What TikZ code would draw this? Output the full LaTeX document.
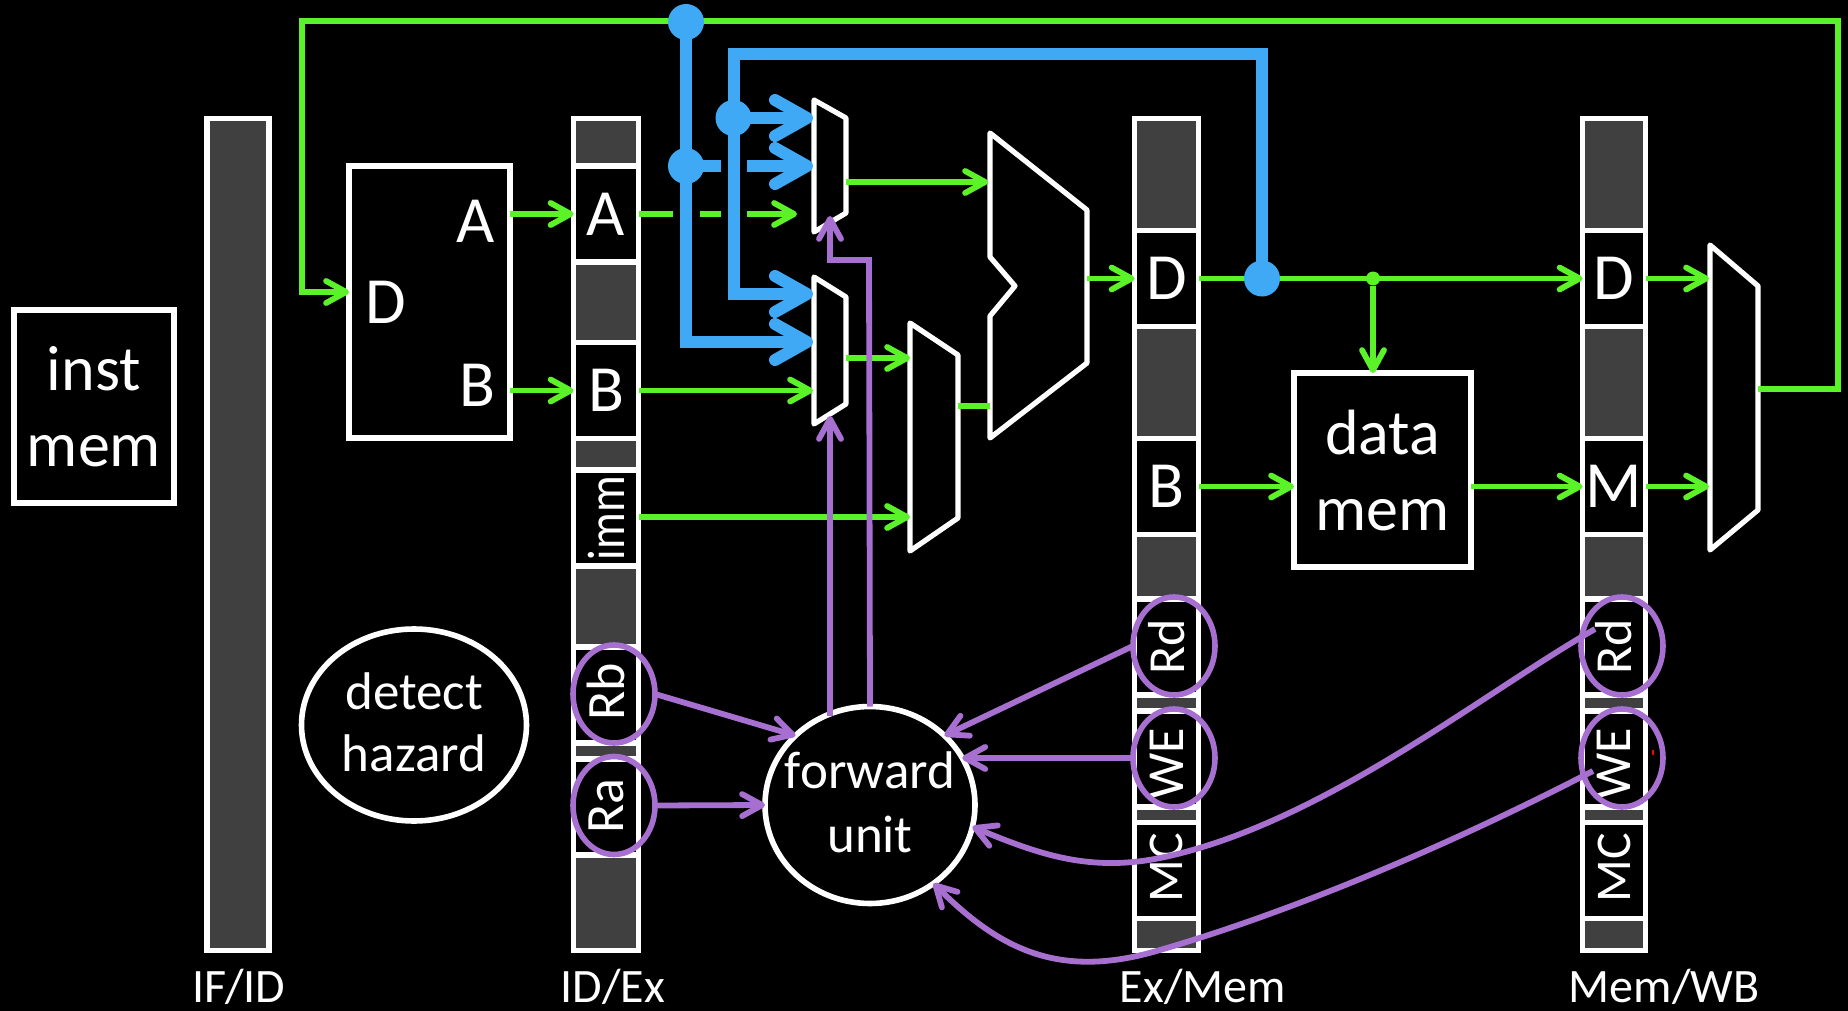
\documentclass[tikz,border=0pt]{standalone}
\usepackage{fontspec}
\usepackage{graphicx}
\setmainfont{Carlito}
\usetikzlibrary{arrows.meta,shapes.geometric}
\definecolor{wgreen}{HTML}{5CF22A}
\definecolor{wblue}{HTML}{3FA9F5}
\definecolor{wpurple}{HTML}{A66FD0}
\definecolor{bargrey}{HTML}{404040}
\newsavebox{\rotholder}
\newcommand{\rottext}[3]{\sbox{\rotholder}{\rotatebox{90}{\fontsize{#1}{#1}\selectfont #2}}\raisebox{\dimexpr-0.5\ht\rotholder+0.5\dp\rotholder+#3\relax}[0pt][0pt]{\usebox{\rotholder}}}
\tikzset{
  regbar/.style={draw=white,fill=bargrey,line width=2.6pt,inner sep=0pt,outer sep=0pt},
  cellbox/.style={draw=white,fill=black,line width=2.6pt,inner sep=0pt,outer sep=0pt,text=white,minimum height=48pt,minimum width=#1,font=\fontsize{33}{36}\selectfont},
  cellbox/.default=32pt,
  blockbox/.style={draw=white,fill=black,line width=2.6pt,inner sep=0pt,outer sep=0pt,text=white,align=center,font=\fontsize{32}{38}\selectfont},
  shapeline/.style={draw=white,line width=2.6pt,line join=round,fill=black},
  bigoval/.style={ellipse,draw=white,fill=black,line width=2.8pt,inner sep=0pt,outer sep=0pt},
  ovaltext/.style={text=white,align=center,inner sep=0pt,font=\fontsize{26.5}{#1}\selectfont},
  selring/.style={ellipse,draw=wpurple,line width=2.8pt,inner sep=0pt,outer sep=0pt,minimum width=41pt,minimum height=49pt},
  gwire/.style={draw=wgreen,line width=2.9pt},
  garrow/.style={gwire,-{Straight Barb[round,length=10pt,width=11pt]}},
  bwire/.style={draw=wblue,line width=6pt},
  barrow/.style={bwire,-{Straight Barb[round,length=16pt,width=18pt]}},
  parrow/.style={draw=wpurple,line width=2.9pt,-{Straight Barb[round,length=10pt,width=11pt]}},
  bdot/.style={circle,fill=wblue,inner sep=0pt,outer sep=0pt,minimum size=#1},
  busline/.style={text=white,inner sep=0pt,anchor=base,font=\fontsize{24}{24}\selectfont},
}
\begin{document}
\begin{tikzpicture}[x=0.5pt,y=-0.5pt]
\useasboundingbox (0,0) rectangle (1848,1011);
\fill[black] (0,0) rectangle (1848,1011);

% pipeline registers
\node[regbar,minimum width=31pt,minimum height=416pt] (ifid) at (238,534.5) {};
\node[regbar,minimum width=32.5pt,minimum height=416pt] (idex) at (606,534.5) {};
\node[regbar,minimum width=32pt,minimum height=416pt] (exmem) at (1166.5,534.5) {};
\node[regbar,minimum width=31.5pt,minimum height=416pt] (memwb) at (1614,534.5) {};

% ID/Ex cells
\node[cellbox=32.5pt] (idA) at (606,214) {A};
\node[cellbox=32.5pt] (idB) at (606,390.5) {B};
\node[cellbox=32.5pt] (idImm) at (606,518) {\rotatebox{90}{\scalebox{1}[1.15]{\fontsize{23}{23}\selectfont imm}}};
\node[cellbox=32.5pt] (idRb) at (606,695) {\rottext{27}{Rb}{1.5pt}};
\node[cellbox=32.5pt] (idRa) at (606,807) {\rottext{27}{Ra}{0.5pt}};

% Ex/Mem cells
\node[cellbox=32pt] (exD) at (1166.5,278.5) {D};
\node[cellbox=32pt] (exB) at (1166.5,486.5) {B};
\node[cellbox=32pt] (exRd) at (1166.5,647) {\rottext{26}{Rd}{0pt}};
\node[cellbox=32pt] (exWE) at (1166.5,759) {\rottext{26}{WE}{-2.4pt}};
\node[cellbox=32pt] (exMC) at (1166.5,870.5) {\rottext{25}{MC}{1.5pt}};

% Mem/WB cells
\node[cellbox=31.5pt] (memD) at (1614,278.5) {D};
\node[cellbox=31.5pt] (memM) at (1614,486.5) {M};
\node[cellbox=31.5pt] (memRd) at (1614,647) {\rottext{26}{Rd}{0pt}};
\node[cellbox=31.5pt] (memWE) at (1614,759) {\rottext{26}{WE}{-2.4pt}};
\node[cellbox=31.5pt] (memMC) at (1614,870.5) {\rottext{25}{MC}{1.5pt}};

% blocks
\node[blockbox,minimum width=80pt,minimum height=96.5pt] (imem) at (94,406.5) {inst\\mem};
\node[blockbox,minimum width=80.5pt,minimum height=136pt] (regs) at (429.5,302) {};
\node[text=white,font=\fontsize{33}{36}\selectfont] (regA) at (476,221) {A};
\node[text=white,font=\fontsize{33}{36}\selectfont] (regB) at (477,385) {B};
\node[text=white,font=\fontsize{33}{36}\selectfont] (regD) at (386,302) {D};
\node[blockbox,minimum width=88.5pt,minimum height=97pt] (dmem) at (1382.5,470) {data\\mem};
\node[bigoval,minimum width=112.5pt,minimum height=96pt] (hazard) at (414,725) {};
\node[ovaltext=31pt] (hazardText) at (414,722) {detect\\hazard};
\node[bigoval,minimum width=105pt,minimum height=98.5pt] (fwd) at (870,805) {};
\node[ovaltext=32pt] (fwdText) at (870,802) {forward\\unit};

% muxes and ALU
\draw[shapeline] (814,100) -- (846,118) -- (846,213) -- (814,232) -- cycle;
\draw[shapeline] (814,277) -- (846,297) -- (846,404) -- (814,424) -- cycle;
\draw[shapeline] (910,323) -- (958,355) -- (958,518) -- (910,551) -- cycle;
\draw[shapeline] (990,133) -- (1087,210) -- (1087,363) -- (990,438) -- (990,316) -- (1015,286) -- (990,257) -- cycle;
\draw[shapeline] (1710,245) -- (1758,286) -- (1758,510) -- (1710,550) -- cycle;

\coordinate (m1A) at (813,118);
\coordinate (m1B) at (813,166);
\coordinate (m1C) at (797,214);
\coordinate (m1Out) at (846,182);
\coordinate (m1Ctl) at (830,216);
\coordinate (m2A) at (813,294);
\coordinate (m2B) at (813,342);
\coordinate (m2C) at (813,390.5);
\coordinate (m2Out) at (846,358);
\coordinate (m2Ctl) at (830,416);
\coordinate (m3A) at (910,358);
\coordinate (m3B) at (910,517);
\coordinate (m3Out) at (958,406);
\coordinate (aluA) at (988,182);
\coordinate (aluB) at (990,406);
\coordinate (aluOut) at (1087,278.5);
\coordinate (m4A) at (1709,278.5);
\coordinate (m4B) at (1709,486.5);
\coordinate (m4Out) at (1758,389);
\coordinate (ctlTurnR) at (869,260);
\coordinate (ctlTurnL) at (830,260);
\coordinate (topL) at (302,21);
\coordinate (topR) at (1838,21);
\coordinate (sideR) at (1838,389);
\coordinate (topLowL) at (302,292);
\coordinate (regIn) at (349,292);

% green wires
\draw[garrow,line join=miter] (m4Out) -- (sideR) -- (topR) -- (topL) -- (topLowL) -- (regIn);
\draw[garrow] (regs.east |- idA) -- (idA.west);
\draw[garrow] (regs.east |- idB) -- (idB.west);
\coordinate (dashA) at (673,214);
\coordinate (dashB) at (700,214);
\coordinate (dashC) at (721,214);
\coordinate (dashD) at (747,214);
\draw[gwire] (idA.east) -- (dashA);
\draw[gwire] (dashB) -- (dashC);
\draw[garrow] (dashD) -- (m1C);
\draw[garrow] (idB.east) -- (m2C);
\draw[garrow] (idImm.east |- m3B) -- (m3B);
\draw[garrow] (m1Out) -- (aluA);
\draw[garrow] (m2Out) -- (m3A);
\draw[gwire] (m3Out) -- (aluB);
\draw[garrow] (aluOut) -- (exD.west);
\draw[garrow] (exD.east) -- (memD.west);
\node[bdot=7pt,fill=wgreen] (junc) at (1373,278.5) {};
\draw[garrow] (junc) -- (junc |- dmem.north);
\draw[garrow] (exB.east) -- (dmem.west |- exB);
\draw[garrow] (dmem.east |- memM) -- (memM.west);
\draw[garrow] (memD.east) -- (m4A);
\draw[garrow] (memM.east) -- (m4B);

% blue bypass wires
\node[bdot=18pt] (dotTop) at (686,22) {};
\node[bdot=18pt] (dotMid) at (686,166) {};
\node[bdot=18pt] (dotUp) at (733.5,118) {};
\node[bdot=18pt] (dotEx) at (1262,278.5) {};
\coordinate (bTurnA) at (686,342);
\coordinate (bTurnB) at (733.5,294);
\coordinate (bTopL) at (733.5,54);
\coordinate (bTopR) at (1262,54);
\coordinate (bGapA) at (721,166);
\coordinate (bGapB) at (747,166);
\draw[barrow,line join=miter] (dotTop.center) -- (bTurnA) -- (m2B);
\draw[barrow,line join=miter] (dotEx.center) -- (bTopR) -- (bTopL) -- (bTurnB) -- (m2A);
\draw[barrow] (dotUp.center) -- (m1A);
\draw[bwire] (dotMid.center) -- (bGapA);
\draw[barrow] (bGapB) -- (m1B);

% purple control wires
\draw[parrow,line join=miter] (fwd.north) -- (ctlTurnR) -- (ctlTurnL) -- (m1Ctl);
\draw[parrow] (m2Ctl |- fwd.117) -- (m2Ctl);
\node[selring] (rbRing) at (614,694) {};
\node[selring] (raRing) at (614,805.5) {};
\node[selring] (exRdRing) at (1174,646) {};
\node[selring] (exWERing) at (1174,758) {};
\node[selring] (memRdRing) at (1622,646) {};
\node[selring] (memWERing) at (1622,758) {};
\coordinate (memRdTap) at (1595,629);
\coordinate (memWETap) at (1593,771);
\coordinate (midRd) at (1160,858);
\coordinate (midWE) at (1160,950);
\draw[parrow] (rbRing.east) -- (fwd.137);
\draw[parrow] (raRing.east) -- (fwd.west);
\draw[parrow] (exRdRing.west) -- (fwd.43);
\draw[parrow] (exWERing.west |- fwd.27.6) -- (fwd.27.6);
\draw[parrow] (memRdTap) .. controls (1480,695) and (1320,825) .. (midRd) .. controls (1090,872) and (1040,855) .. (fwd.-12.6);
\draw[parrow] (memWETap) .. controls (1430,855) and (1280,915) .. (midWE) .. controls (1060,980) and (1000,950) .. (fwd.-51.8);
\draw[red,line width=0.7pt] (1653,750) -- (1653,755);

% register labels
\node[busline] (lblA) at (239,1002) {IF/ID};
\node[busline] (lblB) at (613,1002) {ID/Ex};
\node[busline] (lblC) at (1203,1002) {Ex/Mem};
\node[busline] (lblD) at (1664,1002) {Mem/WB};
\end{tikzpicture}
\end{document}
